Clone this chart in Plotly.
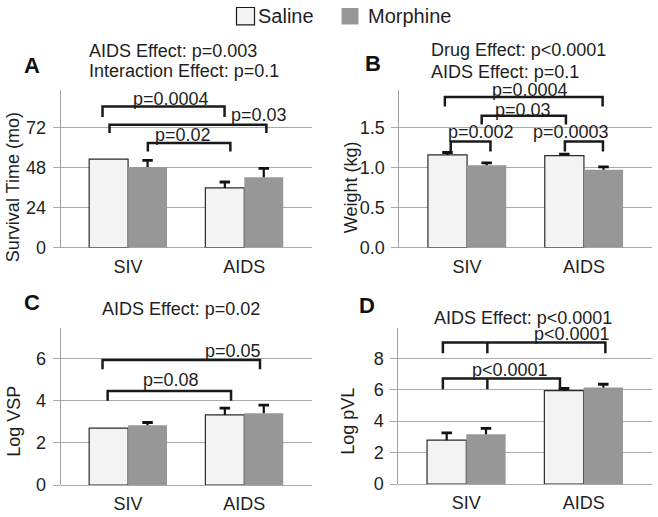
import numpy as np
import plotly.graph_objects as go
from plotly.subplots import make_subplots

# ---------------- data ----------------
categories = ["SIV", "AIDS"]
groups = ["Saline", "Morphine"]
nan = float("nan")

survival_saline = [53.2, 35.8]
survival_saline_err = [nan, 3.6]
survival_morphine = [48.4, 42.2]
survival_morphine_err = [4.0, 5.4]

weight_saline = [1.16, 1.15]
weight_saline_err = [0.03, 0.02]
weight_morphine = [1.03, 0.975]
weight_morphine_err = [0.03, 0.035]

vsp_saline = [2.70, 3.33]
vsp_saline_err = [nan, 0.32]
vsp_morphine = [2.84, 3.41]
vsp_morphine_err = [0.13, 0.38]

pvl_saline = [2.79, 5.95]
pvl_saline_err = [0.46, 0.13]
pvl_morphine = [3.17, 6.14]
pvl_morphine_err = [0.37, 0.21]

panel_letters = ["A", "B", "C", "D"]
y_titles = ["Survival Time (mo)", "Weight (kg)", "Log VSP", "Log pVL"]
y_ticks = [[0, 24, 48, 72], [0, 0.5, 1.0, 1.5], [0, 2, 4, 6], [0, 2, 4, 6, 8]]
y_ranges = [[0, 94.8], [0, 1.975], [0, 7.47], [0, 9.95]]
effect_titles = [
    ["AIDS Effect: p=0.003", "Interaction Effect: p=0.1"],
    ["Drug Effect: p&lt;0.0001", "AIDS Effect: p=0.1"],
    ["AIDS Effect: p=0.02"],
    ["AIDS Effect: p&lt;0.0001"],
]

# brackets: legs (x in category units), bar height, leg bottom, label, label position
brackets = [
    [
        dict(legs=[-0.22, 0.83], y=84.8, yb=78.4, text="p=0.0004", lx=0.37, ly=89.0),
        dict(legs=[-0.16, 1.19], y=73.8, yb=68.8, text="p=0.03", lx=1.13, ly=79.6),
        dict(legs=[0.17, 0.88], y=62.8, yb=57.8, text="p=0.02", lx=0.47, ly=67.6),
    ],
    [
        dict(legs=[-0.19, 1.16], y=1.884, yb=1.766, text="p=0.0004", lx=0.54, ly=1.972),
        dict(legs=[0.125, 0.846], y=1.65, yb=1.54, text="p=0.03", lx=0.48, ly=1.728),
        dict(legs=[-0.14, 0.20], y=1.329, yb=1.204, text="p=0.002", lx=0.12, ly=1.444),
        dict(legs=[0.837, 1.163], y=1.329, yb=1.204, text="p=0.0003", lx=0.89, ly=1.444),
    ],
    [
        dict(legs=[-0.22, 1.135], y=5.94, yb=5.50, text="p=0.05", lx=0.90, ly=6.34),
        dict(legs=[-0.176, 0.886], y=4.47, yb=4.0, text="p=0.08", lx=0.365, ly=4.97),
    ],
    [
        dict(legs=[-0.20, 0.179, 1.185], y=9.0, yb=8.32, text="p&lt;0.0001", lx=0.90, ly=9.56),
        dict(legs=[-0.20, 0.179, 0.798], y=6.71, yb=6.03, text="p&lt;0.0001", lx=0.37, ly=7.23),
    ],
]

panels = [
    (survival_saline, survival_saline_err, survival_morphine, survival_morphine_err),
    (weight_saline, weight_saline_err, weight_morphine, weight_morphine_err),
    (vsp_saline, vsp_saline_err, vsp_morphine, vsp_morphine_err),
    (pvl_saline, pvl_saline_err, pvl_morphine, pvl_morphine_err),
]

# ---------------- style / layout ----------------
REF_W, REF_H = 658, 517      # reference picture size (positions below are in its pixels)
W, H = 658, 526              # figure size (viewport is slightly taller than the picture)
FONT = "Liberation Sans, Arial, Helvetica, sans-serif"
TXT = "#1e1e1e"
GRID = "#aaaaaa"
SALINE_FILL = "#f3f3f3"
MORPH_FILL = "#979797"
BARGAP = 0.33


def px_x(p):
    return p / REF_W


def px_y(p):
    return 1 - p / REF_H


# plot-area boxes in reference pixels (left, right, top, bottom)
boxes = [
    (60.7, 311.7, 90.0, 248.0),
    (399.3, 651.7, 90.0, 248.0),
    (60.7, 311.7, 328.3, 486.0),
    (398.3, 651.7, 328.3, 485.0),
]

fig = make_subplots(rows=2, cols=2)
positions = [(1, 1), (1, 2), (2, 1), (2, 2)]
xs = list(range(len(categories)))
fills = [SALINE_FILL, MORPH_FILL]
outlines = [dict(color="#2a2a2a", width=1.2), dict(width=0)]

for i, (sal, sal_e, mor, mor_e) in enumerate(panels):
    r, c = positions[i]
    for g, (vals, errs) in enumerate([(sal, sal_e), (mor, mor_e)]):
        v = np.array(vals, dtype=float)
        e = np.array(errs, dtype=float)
        fig.add_trace(go.Bar(
            x=xs, y=v, name=groups[g], showlegend=False,
            offsetgroup=groups[g], alignmentgroup=f"p{i}",
            marker=dict(color=fills[g], line=outlines[g]),
            error_y=dict(type="data", symmetric=False, array=e,
                         arrayminus=np.where(np.isnan(e), np.nan, 0.0),
                         color="#111111", thickness=2.2, width=0),
        ), row=r, col=c)
        # error-bar caps (one-sided "T")
        fig.add_trace(go.Scatter(
            x=xs, y=v + e, mode="markers", showlegend=False, hoverinfo="skip",
            offsetgroup=groups[g], alignmentgroup=f"p{i}",
            marker=dict(symbol="line-ew", size=7.5, color="#111111",
                        line=dict(color="#111111", width=2.8)),
        ), row=r, col=c)

annotations = []
shapes = []

for i in range(4):
    l, rgt, t, b = boxes[i]
    xa = "xaxis" if i == 0 else f"xaxis{i+1}"
    ya = "yaxis" if i == 0 else f"yaxis{i+1}"
    xref = "x" if i == 0 else f"x{i+1}"
    yref = "y" if i == 0 else f"y{i+1}"
    fig.layout[xa].update(
        domain=[px_x(l), px_x(rgt)], range=[-0.58, 1.58],
        tickvals=xs, ticktext=categories, showgrid=False, zeroline=False,
        showline=False, ticks="", ticklabelstandoff=6,
        tickfont=dict(size=18, color=TXT, family=FONT), fixedrange=True,
    )
    fig.layout[ya].update(
        domain=[px_y(b), px_y(t)], range=y_ranges[i], tickvals=y_ticks[i],
        tickformat=".1f" if i == 1 else "d",
        showgrid=True, gridcolor=GRID, gridwidth=1,
        zeroline=True, zerolinecolor=GRID, zerolinewidth=1,
        showline=True, linecolor="#a0a0a0", linewidth=1,
        ticks="outside", ticklen=7, tickcolor=GRID, tickwidth=1,
        ticklabelstandoff=3,
        tickfont=dict(size=18, color=TXT, family=FONT), fixedrange=True,
    )
    # significance brackets
    for br in brackets[i]:
        legs = br["legs"]
        path = f"M{legs[0]},{br['yb']} L{legs[0]},{br['y']} L{legs[-1]},{br['y']} L{legs[-1]},{br['yb']}"
        for mid in legs[1:-1]:
            path += f" M{mid},{br['y']} L{mid},{br['yb']}"
        shapes.append(dict(type="path", path=path, xref=xref, yref=yref,
                           line=dict(color="#1a1a1a", width=2.5)))
        annotations.append(dict(text=br["text"], x=br["lx"], y=br["ly"], xref=xref, yref=yref,
                                xanchor="center", yanchor="middle", showarrow=False,
                                font=dict(size=18, color=TXT, family=FONT)))

# y-axis titles (centred on gridline span)
ytitle_pos = [(12.5, 188), (350.5, 188), (14, 422.5), (348.5, 422)]
for i, (tx, ty) in enumerate(ytitle_pos):
    annotations.append(dict(text=y_titles[i], x=px_x(tx), y=px_y(ty), xref="paper", yref="paper",
                            textangle=-90, xanchor="center", yanchor="middle", showarrow=False,
                            font=dict(size=18, color=TXT, family=FONT)))

# panel letters
letter_pos = [(31.5, 65.5), (373.3, 64), (31.5, 303), (367.5, 306.5)]
for i, (tx, ty) in enumerate(letter_pos):
    annotations.append(dict(text=f"<b>{panel_letters[i]}</b>", x=px_x(tx), y=px_y(ty),
                            xref="paper", yref="paper", xanchor="center", yanchor="middle",
                            showarrow=False, font=dict(size=22, color="#111111", family=FONT)))

# effect titles (left aligned)
title_pos = [(87, [51, 71.5]), (429, [50, 72.5]), (100, [310]), (431.7, [318.5])]
for i, (tx, tys) in enumerate(title_pos):
    for line, ty in zip(effect_titles[i], tys):
        annotations.append(dict(text=line, x=px_x(tx), y=px_y(ty), xref="paper", yref="paper",
                                xanchor="left", yanchor="middle", showarrow=False,
                                font=dict(size=18, color=TXT, family=FONT)))

# legend (drawn at top centre)
shapes.append(dict(type="rect", xref="paper", yref="paper",
                   x0=px_x(236.5), x1=px_x(254.5), y0=px_y(25), y1=px_y(7.5),
                   fillcolor=SALINE_FILL, line=dict(color="#1a1a1a", width=1.2)))
shapes.append(dict(type="rect", xref="paper", yref="paper",
                   x0=px_x(341.5), x1=px_x(358.5), y0=px_y(24.5), y1=px_y(8),
                   fillcolor=MORPH_FILL, line=dict(width=0)))
annotations.append(dict(text=groups[0], x=px_x(255.5), y=px_y(16.5), xref="paper", yref="paper",
                        xanchor="left", yanchor="middle", showarrow=False,
                        font=dict(size=20, color=TXT, family=FONT)))
annotations.append(dict(text=groups[1], x=px_x(365.5), y=px_y(16.5), xref="paper", yref="paper",
                        xanchor="left", yanchor="middle", showarrow=False,
                        font=dict(size=20, color=TXT, family=FONT)))

fig.update_layout(
    width=W, height=H, margin=dict(l=0, r=0, t=0, b=0),
    barmode="group", bargap=BARGAP, bargroupgap=0,
    scattermode="group", scattergap=BARGAP,
    plot_bgcolor="white", paper_bgcolor="white",
    font=dict(family=FONT, size=18, color=TXT),
    showlegend=False, annotations=annotations, shapes=shapes,
)

# remove the page's default body margin so the figure starts at the window corner
fig.write_html(
    "out.html",
    config={"displayModeBar": False},
    post_script="document.body.style.margin='0';document.documentElement.style.overflow='hidden';",
)
